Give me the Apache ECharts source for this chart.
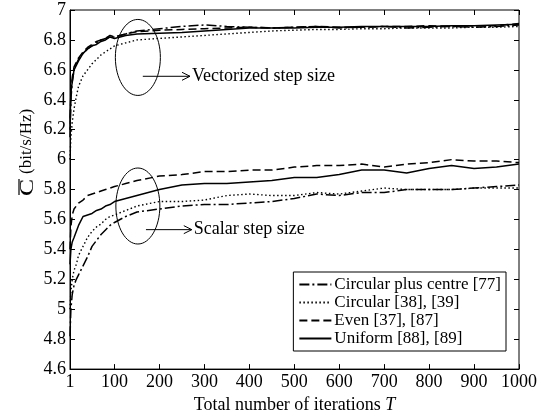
<!DOCTYPE html>
<html>
<head>
<meta charset="utf-8">
<script src="https://cdn.jsdelivr.net/npm/echarts@6/dist/echarts.min.js"></script>
<style>
  html, body { margin: 0; padding: 0; background: #fff; }
  #chart { width: 541px; height: 419px; }
</style>
</head>
<body>
<div id="chart"></div>
<script>
// Iteration counts at which the average capacity was recorded
const iterations = [1, 3, 6, 10, 15, 20, 30, 40, 50, 60, 70, 80, 90, 100, 125, 150, 200, 250,
  300, 350, 400, 450, 500, 550, 600, 650, 700, 750, 800, 850, 900, 950, 1000];

const xTickValues = [1, 100, 200, 300, 400, 500, 600, 700, 800, 900, 1000];

const schemeNames = ['Circular plus centre [77]', 'Circular [38], [39]', 'Even [37], [87]', 'Uniform [88], [89]'];

// Vectorized step size
const vecCircPlusCentre = [6.15, 6.40, 6.52, 6.60, 6.64, 6.67, 6.71, 6.74, 6.76, 6.78, 6.80, 6.81, 6.82, 6.82, 6.84, 6.86,
  6.875, 6.89, 6.90, 6.89, 6.885, 6.88, 6.885, 6.89, 6.88, 6.885, 6.89, 6.88, 6.885, 6.89, 6.885, 6.89, 6.90];
const vecCircular = [6.00, 6.15, 6.25, 6.34, 6.42, 6.49, 6.56, 6.60, 6.64, 6.67, 6.70, 6.72, 6.74, 6.76, 6.78, 6.80,
  6.81, 6.82, 6.83, 6.84, 6.85, 6.86, 6.865, 6.87, 6.87, 6.875, 6.875, 6.88, 6.88, 6.88, 6.885, 6.885, 6.89];
const vecEven = [6.20, 6.45, 6.55, 6.62, 6.65, 6.68, 6.72, 6.75, 6.77, 6.79, 6.80, 6.81, 6.83, 6.82, 6.84, 6.855,
  6.865, 6.87, 6.875, 6.88, 6.885, 6.88, 6.885, 6.89, 6.885, 6.885, 6.89, 6.89, 6.895, 6.89, 6.895, 6.895, 6.91];
const vecUniform = [6.25, 6.45, 6.52, 6.60, 6.63, 6.66, 6.71, 6.74, 6.76, 6.77, 6.79, 6.80, 6.82, 6.81, 6.83, 6.84,
  6.845, 6.85, 6.86, 6.87, 6.88, 6.88, 6.88, 6.885, 6.885, 6.89, 6.89, 6.89, 6.89, 6.895, 6.895, 6.90, 6.905];

// Scalar step size
const scaCircPlusCentre = [4.82, 5.00, 5.10, 5.16, 5.20, 5.23, 5.29, 5.35, 5.42, 5.46, 5.50, 5.53, 5.56, 5.58, 5.62, 5.65,
  5.67, 5.69, 5.70, 5.70, 5.71, 5.72, 5.74, 5.77, 5.76, 5.78, 5.78, 5.80, 5.80, 5.80, 5.81, 5.82, 5.83];
const scaCircular = [5.00, 5.12, 5.20, 5.26, 5.30, 5.36, 5.42, 5.48, 5.52, 5.55, 5.57, 5.60, 5.62, 5.63, 5.66, 5.69,
  5.72, 5.72, 5.73, 5.76, 5.77, 5.76, 5.76, 5.78, 5.77, 5.79, 5.81, 5.80, 5.80, 5.80, 5.81, 5.81, 5.81];
const scaEven = [5.40, 5.55, 5.63, 5.67, 5.69, 5.71, 5.73, 5.76, 5.77, 5.78, 5.79, 5.80, 5.81, 5.82, 5.84, 5.86,
  5.89, 5.90, 5.92, 5.92, 5.93, 5.93, 5.95, 5.96, 5.96, 5.97, 5.95, 5.97, 5.98, 6.00, 5.99, 5.99, 5.98];
const scaUniform = [5.30, 5.40, 5.45, 5.48, 5.52, 5.56, 5.62, 5.63, 5.64, 5.66, 5.67, 5.69, 5.70, 5.72, 5.74, 5.76,
  5.80, 5.83, 5.84, 5.84, 5.85, 5.86, 5.88, 5.88, 5.90, 5.93, 5.93, 5.91, 5.94, 5.96, 5.94, 5.95, 5.97];

const FONT = '"Liberation Serif", "Times New Roman", serif';

const lineStyles = {
  [schemeNames[0]]: { type: [10, 3, 2, 3], width: 1.5 },
  [schemeNames[1]]: { type: [1.5, 2.5], width: 1.4 },
  [schemeNames[2]]: { type: [8, 4], width: 1.5 },
  [schemeNames[3]]: { type: 'solid', width: 1.5 }
};

function pairs(values) {
  return iterations.map((t, i) => [t, values[i]]);
}

function makeSeries(name, values) {
  return {
    name: name,
    type: 'line',
    data: pairs(values),
    showSymbol: false,
    symbol: 'none',
    silent: true,
    lineStyle: Object.assign({ color: '#000' }, lineStyles[name]),
    itemStyle: { color: '#000' }
  };
}

const series = [
  makeSeries(schemeNames[0], vecCircPlusCentre),
  makeSeries(schemeNames[1], vecCircular),
  makeSeries(schemeNames[2], vecEven),
  makeSeries(schemeNames[3], vecUniform),
  makeSeries(schemeNames[0], scaCircPlusCentre),
  makeSeries(schemeNames[1], scaCircular),
  makeSeries(schemeNames[2], scaEven),
  makeSeries(schemeNames[3], scaUniform)
];

const chart = echarts.init(document.getElementById('chart'), null, { renderer: 'canvas' });

const tickStyle = { show: true, inside: true, length: 5, lineStyle: { color: '#000', width: 1 } };
const labelStyle = { color: '#000', fontFamily: FONT, fontSize: 18 };

chart.setOption({
  animation: false,
  backgroundColor: '#fff',
  grid: { left: 70, top: 10, right: 22, bottom: 46, show: true, borderColor: '#000', borderWidth: 1, backgroundColor: 'transparent' },
  legend: {
    orient: 'vertical',
    right: 35,
    top: 272,
    padding: [4, 5, 4, 5],
    itemGap: 1,
    itemWidth: 32,
    itemHeight: 14,
    backgroundColor: '#fff',
    borderColor: '#000',
    borderWidth: 1,
    borderRadius: 0,
    selectedMode: false,
    data: schemeNames,
    // show only the line sample, no marker
    itemStyle: { color: 'transparent', borderColor: 'transparent', borderWidth: 0, opacity: 0 },
    textStyle: { color: '#000', fontFamily: FONT, fontSize: 17, padding: [0, 0, 0, -2] }
  },
  xAxis: [
    {
      type: 'value', min: 1, max: 1000, position: 'bottom',
      axisLine: { show: true, lineStyle: { color: '#000', width: 1 } },
      axisTick: Object.assign({ customValues: xTickValues }, tickStyle),
      axisLabel: Object.assign({ customValues: xTickValues, margin: 4, formatter: v => String(v) }, labelStyle),
      splitLine: { show: false },
      name: '{n|Total number of iterations }{t|T}',
      nameLocation: 'middle',
      nameGap: 24,
      nameTextStyle: {
        rich: {
          n: { fontFamily: FONT, fontSize: 18, color: '#000' },
          t: { fontFamily: FONT, fontSize: 18, fontStyle: 'italic', color: '#000' }
        }
      }
    },
    {
      type: 'value', min: 1, max: 1000, position: 'top',
      axisLine: { show: false },
      axisTick: Object.assign({ customValues: xTickValues }, tickStyle),
      axisLabel: { show: false, customValues: xTickValues },
      splitLine: { show: false }
    }
  ],
  yAxis: [
    {
      type: 'value', min: 4.6, max: 7, interval: 0.2, position: 'left',
      axisLine: { show: true, lineStyle: { color: '#000', width: 1 } },
      axisTick: tickStyle,
      axisLabel: Object.assign({ margin: 4, formatter: v => String(+v.toFixed(1)) }, labelStyle),
      splitLine: { show: false }
    },
    {
      type: 'value', min: 4.6, max: 7, interval: 0.2, position: 'right',
      axisLine: { show: false },
      axisTick: tickStyle,
      axisLabel: { show: false },
      splitLine: { show: false }
    }
  ],
  series: series
});

// Annotations: ellipses grouping each family of curves, with arrows and captions
const annotations = [
  { centre: [152, 6.683], rx: 22.5, ry: 38, arrowFrom: [163, 6.557], arrowTo: [268, 6.557], text: 'Vectorized step size' },
  { centre: [152, 5.69], rx: 22, ry: 38, arrowFrom: [170, 5.532], arrowTo: [272, 5.532], text: 'Scalar step size' }
];

const graphics = [];
annotations.forEach(a => {
  const c = chart.convertToPixel({ gridIndex: 0 }, a.centre);
  const p1 = chart.convertToPixel({ gridIndex: 0 }, a.arrowFrom);
  const p2 = chart.convertToPixel({ gridIndex: 0 }, a.arrowTo);
  graphics.push({
    type: 'ellipse', silent: true,
    shape: { cx: c[0], cy: c[1], rx: a.rx, ry: a.ry },
    style: { fill: 'none', stroke: '#000', lineWidth: 1 }
  });
  graphics.push({
    type: 'line', silent: true,
    shape: { x1: p1[0], y1: p1[1], x2: p2[0], y2: p2[1] },
    style: { stroke: '#000', lineWidth: 1 }
  });
  graphics.push({
    type: 'polyline', silent: true,
    shape: { points: [[p2[0] - 8, p2[1] - 4], [p2[0], p2[1]], [p2[0] - 8, p2[1] + 4]] },
    style: { fill: 'none', stroke: '#000', lineWidth: 1 }
  });
  graphics.push({
    type: 'text', silent: true,
    x: p2[0] + 2, y: p2[1],
    style: { text: a.text, fill: '#000', font: '18px ' + FONT, textVerticalAlign: 'middle', verticalAlign: 'middle' }
  });
});

// Y-axis title: C with an overline, then the unit, reading bottom to top
graphics.push({
  type: 'group', silent: true,
  x: 27, y: 152, rotation: Math.PI / 2,
  children: [
    {
      type: 'text', x: -44, y: 1, scaleX: 1.35,
      style: { text: 'C', fill: '#000', font: '19px ' + FONT, verticalAlign: 'middle', textVerticalAlign: 'middle' }
    },
    {
      type: 'line',
      shape: { x1: -43, y1: -8, x2: -27, y2: -8 },
      style: { stroke: '#000', lineWidth: 1.2 }
    },
    {
      type: 'text', x: -22, y: 0,
      style: { text: '(bit/s/Hz)', fill: '#000', font: '17px ' + FONT, verticalAlign: 'middle', textVerticalAlign: 'middle' }
    }
  ]
});

chart.setOption({ graphic: graphics });
</script>
</body>
</html>
